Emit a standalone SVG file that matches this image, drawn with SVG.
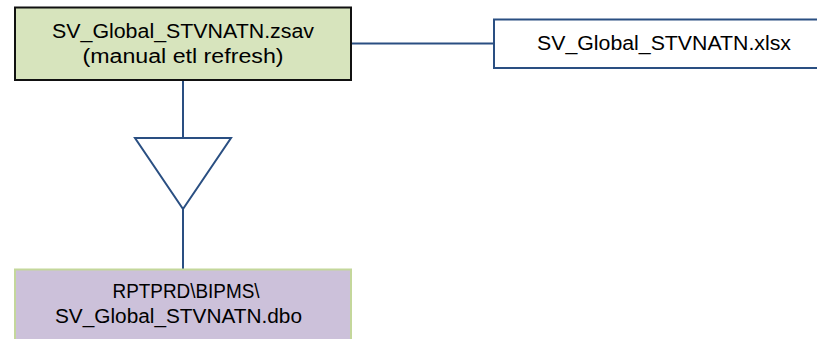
<svg xmlns="http://www.w3.org/2000/svg" width="817" height="339" viewBox="0 0 817 339">
<style>
text{font-family:"Liberation Sans",Arial,sans-serif;font-size:20px;fill:#000;text-anchor:middle}
.conn{stroke:#2a4f82;stroke-width:2;fill:none}
</style>
<rect width="817" height="339" fill="#fff"/>
<g id="connectors">
<line class="conn" x1="351" y1="43.5" x2="494" y2="43.5"/>
<line class="conn" x1="183" y1="80" x2="183" y2="138"/>
<polygon class="conn" points="135,138 231,138 183,209" fill="#fff"/>
<line class="conn" x1="183" y1="209" x2="183" y2="269"/>
</g>
<g id="zsav">
<rect x="15" y="7.5" width="336" height="72.5" fill="#d7e4bd" stroke="#111" stroke-width="2"/>
<text x="183" y="37.5" textLength="262" lengthAdjust="spacingAndGlyphs">SV_Global_STVNATN.zsav</text>
<text x="183" y="62.5" textLength="201" lengthAdjust="spacingAndGlyphs">(manual etl refresh)</text>
</g>
<g id="xlsx">
<rect x="494" y="19.5" width="340" height="48.5" fill="#fff" stroke="#2a4f82" stroke-width="2"/>
<text x="664" y="49.5" textLength="254" lengthAdjust="spacingAndGlyphs">SV_Global_STVNATN.xlsx</text>
</g>
<g id="dbo">
<rect x="15" y="269.5" width="336" height="80" fill="#ccc1da" stroke="#c4d79b" stroke-width="2"/>
<text x="186" y="297.5" textLength="147" lengthAdjust="spacingAndGlyphs">RPTPRD\BIPMS\</text>
<text x="178.5" y="323" textLength="247" lengthAdjust="spacingAndGlyphs">SV_Global_STVNATN.dbo</text>
</g>
</svg>
